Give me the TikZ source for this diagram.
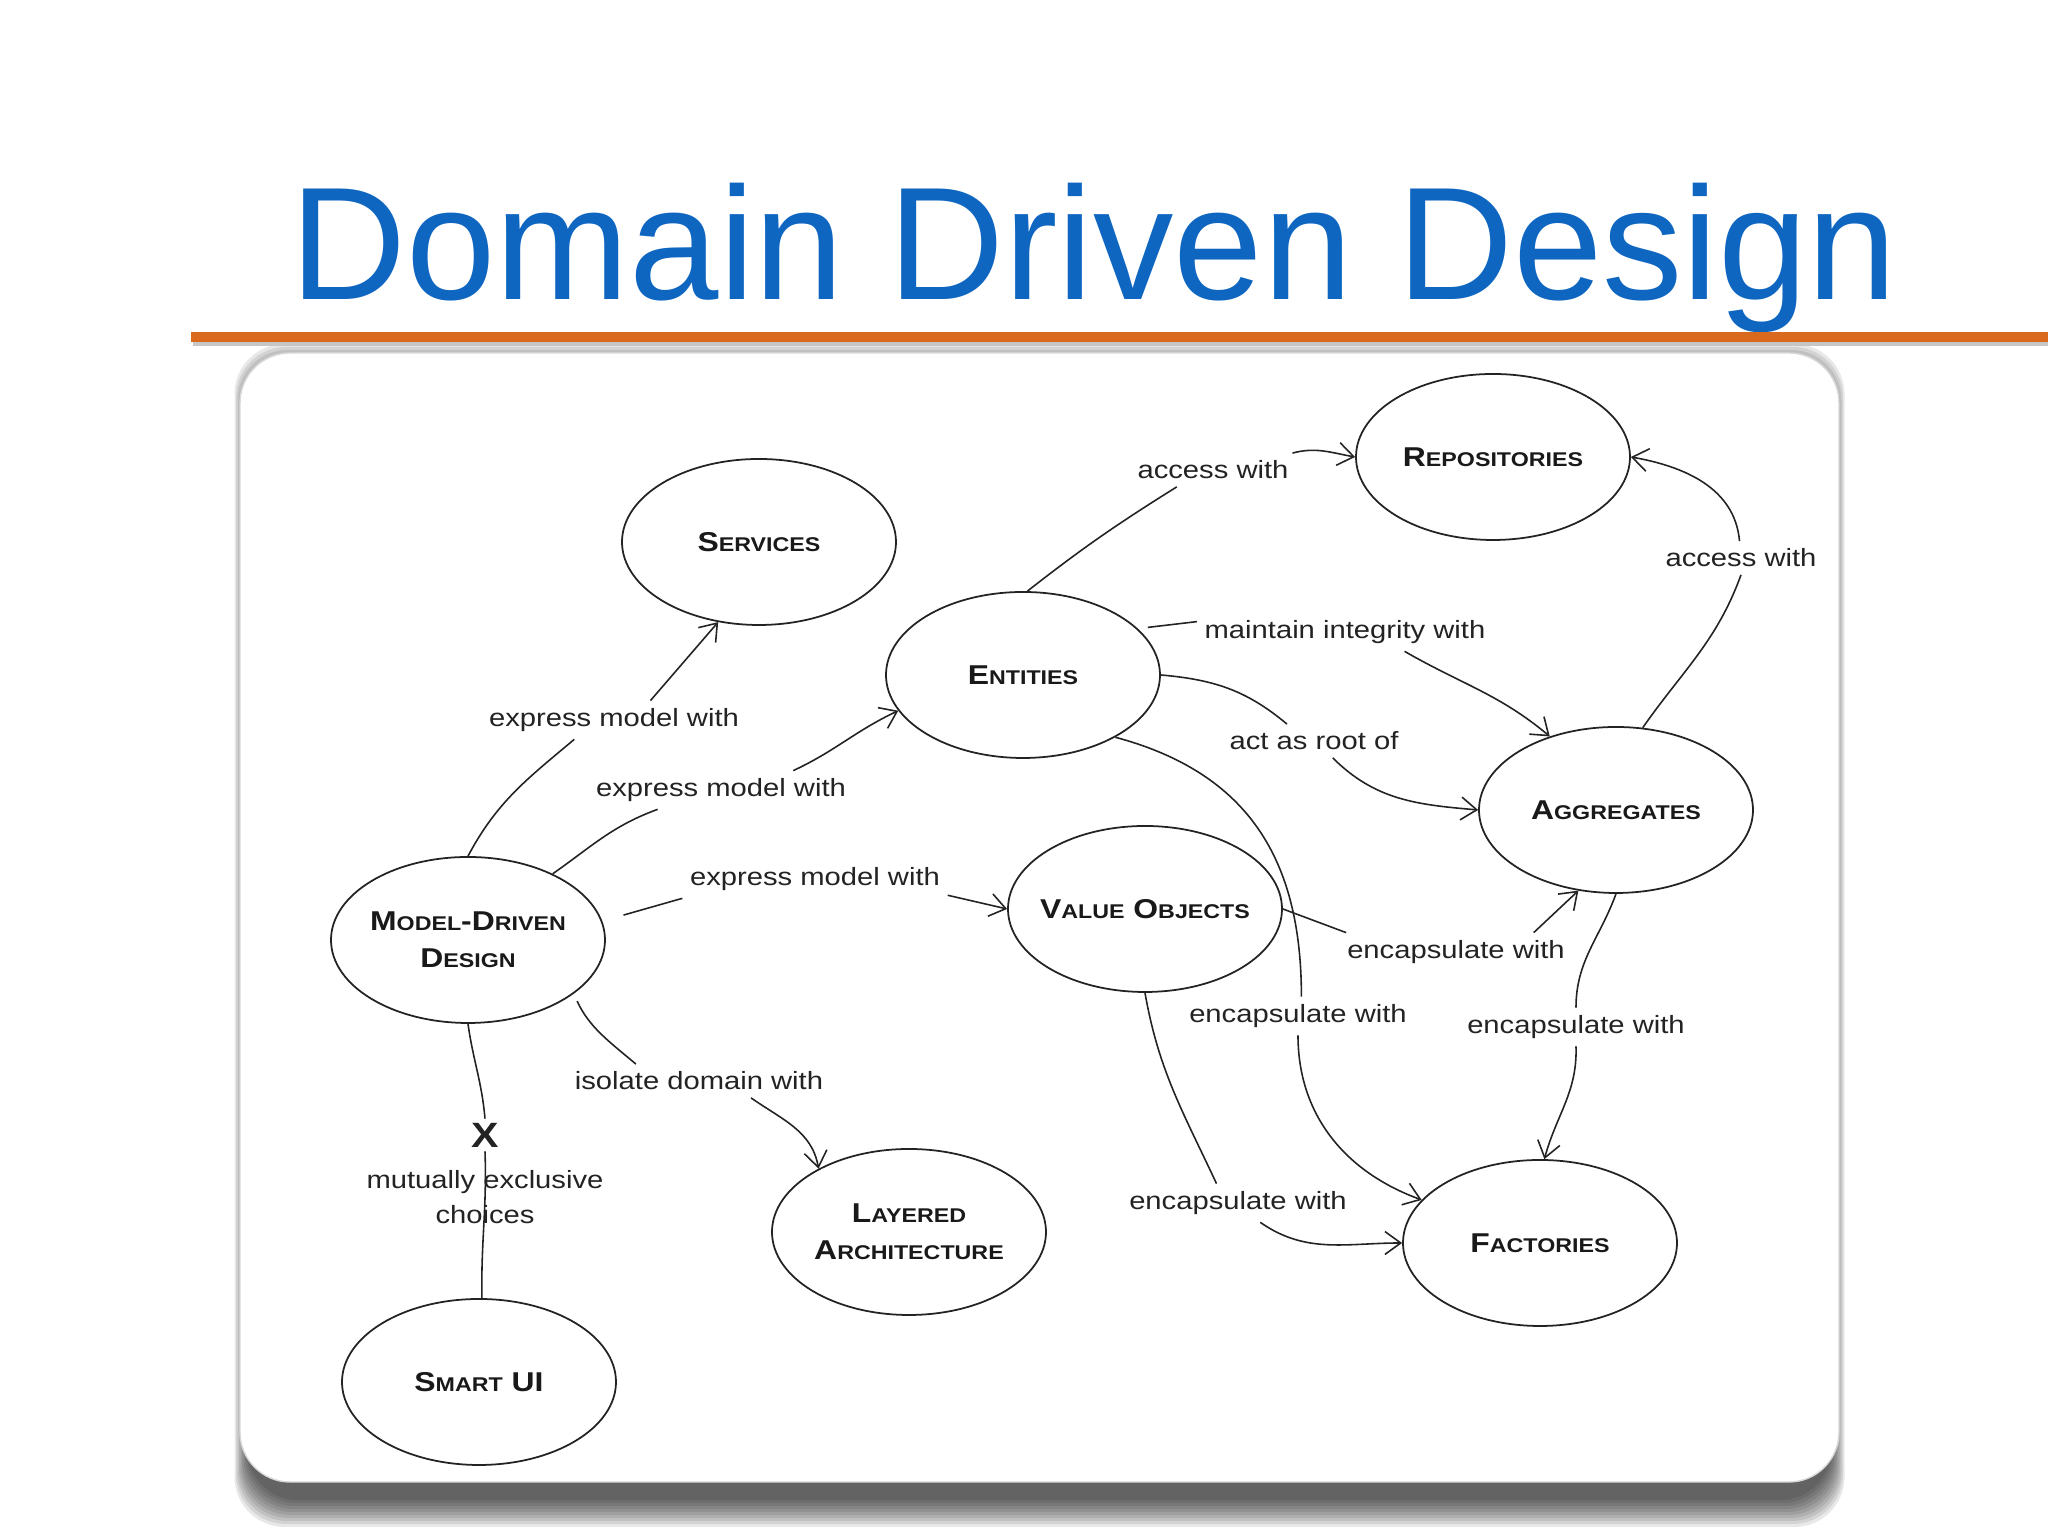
\documentclass[tikz,border=0pt]{standalone}
\usepackage{fontspec}
\setmainfont{Liberation Sans}
\newfontfamily\diagfont[FakeStretch=1.17]{Liberation Sans}
\usetikzlibrary{arrows.meta, positioning, calc, shapes.geometric}

\definecolor{titleblue}{RGB}{14,102,192}
\definecolor{barorange}{RGB}{217,105,28}
\definecolor{inkgray}{RGB}{35,35,35}

% fake small caps: big first letter, small rest
\newcommand{\capsc}[2]{{\fontsize{7.75}{10.4}\selectfont #1}{\fontsize{5.65}{10.4}\selectfont #2}}

\begin{document}
\begin{tikzpicture}[
    concept/.style={ellipse, draw=inkgray, line width=0.5pt, minimum width=2.74cm, minimum height=1.66cm, inner xsep=-4pt, inner ysep=0pt, align=center, text=black!90, font=\diagfont\bfseries\fontsize{7.75}{10.4}\selectfont},
    rel/.style={font=\diagfont\fontsize{7.1}{10}\selectfont, inner sep=2pt, text=inkgray, align=center},
    link/.style={-{Straight Barb[length=4.5pt, width=6.5pt]}, line width=0.45pt, draw=inkgray},
    tie/.style={line width=0.45pt, draw=inkgray},
    title/.style={font=\fontsize{45.7}{50}\selectfont, text=titleblue, inner sep=0pt}
]
    \useasboundingbox (0,0) rectangle (20.48,15.36);

    % Slide frame
    \coordinate (cardsw) at (2.40,0.54);
    \coordinate (cardne) at (18.39,11.83);
    \foreach \k in {0,...,9}
        \fill[black, opacity=0.09, rounded corners=0.5cm] ($(cardsw)+(0.08-\k*0.015,-0.18-\k*0.03)$) rectangle ($(cardne)+(-0.08+\k*0.015,-0.18+\k*0.03)$);
    \filldraw[fill=white, draw=gray!30, line width=0.4pt, rounded corners=0.5cm] (cardsw) rectangle (cardne);

    % Title and rule
    \node[title, anchor=base west] (title) at (2.90,12.36) {Domain Driven Design};
    \draw[gray!45, line width=0.04cm] (1.93,11.92) -- (20.48,11.92);
    \draw[barorange, line width=0.1cm] (1.91,11.99) -- (20.48,11.99);

    % Concepts
    \node[concept] (srv)  at (7.59,9.94)  {\capsc{S}{ERVICES}};
    \node[concept] (repo) at (14.93,10.79) {\capsc{R}{EPOSITORIES}};
    \node[concept] (ent)  at (10.23,8.61) {\capsc{E}{NTITIES}};
    \node[concept] (agg)  at (16.16,7.26) {\capsc{A}{GGREGATES}};
    \node[concept] (mdd)  at (4.68,5.96)  {\capsc{M}{ODEL}-\capsc{D}{RIVEN}\\\capsc{D}{ESIGN}};
    \node[concept] (vo)   at (11.45,6.27) {\capsc{V}{ALUE} \capsc{O}{BJECTS}};
    \node[concept] (lay)  at (9.09,3.04)  {\capsc{L}{AYERED}\\\capsc{A}{RCHITECTURE}};
    \node[concept] (fac)  at (15.40,2.93) {\capsc{F}{ACTORIES}};
    \node[concept] (sui)  at (4.79,1.54)  {\capsc{S}{MART} UI};

    % Relation labels
    \node[rel] (lsrv)    at (6.14,8.16)  {express model with};
    \node[rel] (lent)    at (7.21,7.46)  {express model with};
    \node[rel] (lvo)     at (8.15,6.57)  {express model with};
    \node[rel] (llay)    at (6.99,4.55)  {isolate domain with};
    \node[rel] (lrepo)   at (12.13,10.66) {access with};
    \node[rel] (linteg)  at (13.45,9.04) {maintain integrity with};
    \node[rel] (lroot)   at (13.14,7.95) {act as root of};
    \node[rel] (laccess) at (17.41,9.78) {access with};
    \node[rel] (lentfac) at (12.98,5.20) {encapsulate with};
    \node[rel] (lvoagg)  at (14.56,5.84) {encapsulate with};
    \node[rel] (laggfac) at (15.76,5.09) {encapsulate with};
    \node[rel] (lvofac)  at (12.38,3.33) {encapsulate with};
    \node[rel, font=\diagfont\bfseries\fontsize{10}{12}\selectfont, inner sep=1pt] (xmark) at (4.85,4.01) {X};
    \node[rel] (excl)    at (4.85,3.39)  {mutually exclusive\\choices};

    % Model-driven design relations
    \draw[tie]  (mdd.north) to[out=62, in=220] (lsrv.206);
    \draw[link] (lsrv.28) -- (srv.243);
    \draw[tie]  (mdd.38) to[out=35, in=200] (lent.197);
    \draw[link] (lent.15) to[out=25, in=205] (ent.196);
    \draw[tie, shorten <=0.22cm] (mdd.8) -- (lvo.south west);
    \draw[link] (lvo.-7) -- (vo.west);
    \draw[tie, shorten <=0.08cm] (mdd.-27) to[out=-65, in=140] (llay.165);
    \draw[link] (llay.-18) to[out=-35, in=100] (lay.145);
    \draw[tie]  (mdd.south) to[out=-82, in=95] (xmark.north);
    \draw[tie]  (xmark.south) to[out=-88, in=91] (sui.88);

    % Entity relations
    \draw[tie]  (ent.87) to[out=38, in=212] (lrepo.205);
    \draw[link] (lrepo.12) to[out=15, in=170] (repo.west);
    \draw[tie, shorten <=0.1cm] (ent.22) -- (linteg.176);
    \draw[link] (linteg.-18) to[out=-30, in=140] (agg.132);
    \draw[tie]  (ent.east) to[out=-5, in=140] (lroot.148);
    \draw[link] (lroot.-42) to[out=-45, in=175] (agg.west);
    \draw[tie]  (ent.-34) to[out=-15, in=90, looseness=1.1] (lentfac.80);
    \draw[link] (lentfac.south) to[out=-90, in=160] (fac.160);

    % Aggregate relations
    \draw[tie]  (agg.72) to[out=55, in=250] (laccess.south);
    \draw[link] (laccess.95) to[out=95, in=-10] (repo.east);
    \draw[tie]  (agg.south) to[out=-110, in=90] (laggfac.north);
    \draw[link] (laggfac.south) to[out=-88, in=75] (fac.87);

    % Value object relations
    \draw[tie]  (vo.east) -- (lvoagg.170);
    \draw[link] (lvoagg.14) -- (agg.245);
    \draw[tie]  (vo.south) to[out=-80, in=115] (lvofac.138);
    \draw[link] (lvofac.-41) to[out=-35, in=180] (fac.west);

\end{tikzpicture}
\end{document}
